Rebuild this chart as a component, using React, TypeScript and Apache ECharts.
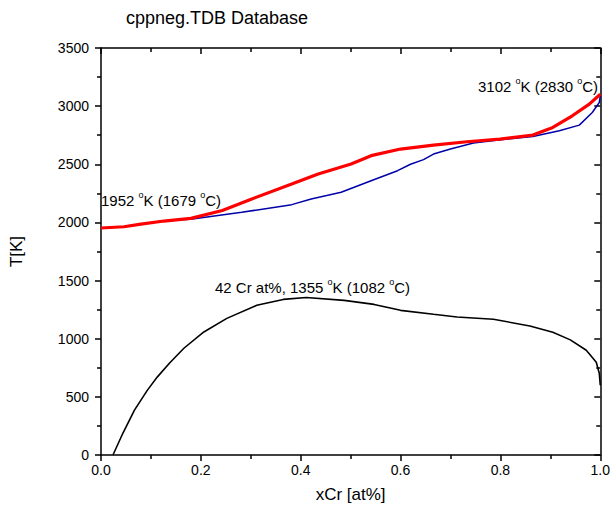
import React, { useEffect, useRef } from "react";
import * as echarts from "echarts";

const xTicks = [0, 0.2, 0.4, 0.6, 0.8, 1.0];
const yTicks = [0, 500, 1000, 1500, 2000, 2500, 3000, 3500];

const redX = [0, 0.046, 0.08, 0.126, 0.18, 0.243, 0.302, 0.382, 0.435, 0.501, 0.541, 0.6, 0.666, 0.733, 0.799, 0.865, 0.905, 0.944, 0.978, 1.0];
const redT = [1952, 1963, 1986, 2012, 2035, 2102, 2202, 2331, 2417, 2502, 2574, 2631, 2665, 2694, 2717, 2751, 2817, 2917, 3017, 3102];

const blueX = [0, 0.046, 0.08, 0.126, 0.183, 0.282, 0.382, 0.421, 0.481, 0.541, 0.594, 0.62, 0.646, 0.666, 0.7, 0.746, 0.8, 0.865, 0.918, 0.958, 0.984, 0.998, 1.0];
const blueT = [1952, 1963, 1986, 2012, 2030, 2087, 2153, 2202, 2259, 2359, 2445, 2500, 2540, 2588, 2631, 2683, 2711, 2739, 2788, 2837, 2945, 3031, 3088];

const blackX = [0.024, 0.044, 0.067, 0.093, 0.113, 0.137, 0.166, 0.206, 0.252, 0.312, 0.365, 0.411, 0.487, 0.547, 0.6, 0.666, 0.713, 0.786, 0.859, 0.905, 0.94, 0.972, 0.992, 0.998, 1.0];
const blackT = [0, 189, 386, 558, 672, 789, 918, 1058, 1175, 1287, 1338, 1355, 1330, 1295, 1244, 1210, 1187, 1167, 1110, 1055, 990, 901, 798, 703, 600];

const pairs = (xs: number[], ys: number[]) => xs.map((x, i) => [x, ys[i]]);

const FONT = "Liberation Sans, Arial, sans-serif";

const richSup = {
  n: { fontSize: 15, fontFamily: FONT, color: "#000", lineHeight: 18, verticalAlign: "bottom" },
  s: { fontSize: 9, fontFamily: FONT, color: "#000", lineHeight: 18, verticalAlign: "top" },
};

export default function App() {
  const ref = useRef<HTMLDivElement>(null);
  useEffect(() => {
    if (!ref.current) return;
    const chart = echarts.init(ref.current, null, { renderer: "svg" });
    const axisCommon = {
      type: "value",
      axisLine: { show: true, onZero: false, lineStyle: { color: "#000", width: 1.5 } },
      splitLine: { show: false },
    };
    const tickStyle = { color: "#000", width: 1.5 };
    chart.setOption({
      animation: false,
      backgroundColor: "#fff",
      title: {
        text: "cppneg.TDB Database",
        left: 121,
        top: 4,
        textStyle: { fontFamily: FONT, fontSize: 18, fontWeight: "normal", color: "#000" },
      },
      grid: { left: 100, right: 11, top: 48, bottom: 62 },
      xAxis: [
        {
          ...axisCommon,
          position: "bottom",
          min: xTicks[0],
          max: xTicks[xTicks.length - 1],
          interval: 0.2,
          name: "xCr [at%]",
          nameLocation: "middle",
          nameGap: 31,
          nameTextStyle: { fontFamily: FONT, fontSize: 17, color: "#000" },
          axisTick: { show: true, inside: false, length: 6, lineStyle: tickStyle },
          minorTick: { show: true, splitNumber: 2, length: 4, lineStyle: tickStyle },
          axisLabel: { fontFamily: FONT, fontSize: 14, color: "#000", margin: 8, formatter: (v: number) => v.toFixed(1) },
        },
        {
          ...axisCommon,
          position: "top",
          min: xTicks[0],
          max: xTicks[xTicks.length - 1],
          interval: 0.2,
          axisTick: { show: true, inside: true, length: 6, lineStyle: tickStyle },
          minorTick: { show: true, splitNumber: 2, length: 4, lineStyle: tickStyle },
          axisLabel: { show: false },
        },
      ],
      yAxis: [
        {
          ...axisCommon,
          position: "left",
          min: yTicks[0],
          max: yTicks[yTicks.length - 1],
          interval: 500,
          name: "T[K]",
          nameLocation: "middle",
          nameGap: 76,
          nameTextStyle: { fontFamily: FONT, fontSize: 17, color: "#000" },
          axisTick: { show: true, inside: false, length: 6, lineStyle: tickStyle },
          minorTick: { show: true, splitNumber: 2, length: 4, lineStyle: tickStyle },
          axisLabel: { fontFamily: FONT, fontSize: 14, color: "#000", margin: 12, formatter: (v: number) => String(v) },
        },
        {
          ...axisCommon,
          position: "right",
          min: yTicks[0],
          max: yTicks[yTicks.length - 1],
          interval: 500,
          axisTick: { show: true, inside: true, length: 6, lineStyle: tickStyle },
          minorTick: { show: true, splitNumber: 2, length: 4, lineStyle: tickStyle },
          axisLabel: { show: false },
        },
      ],
      series: [
        {
          type: "line",
          data: pairs(blackX, blackT),
          showSymbol: false,
          lineStyle: { color: "#000", width: 1.6 },
          z: 3,
        },
        {
          type: "line",
          data: pairs(blueX, blueT),
          showSymbol: false,
          lineStyle: { color: "#0000a8", width: 1.5 },
          z: 4,
        },
        {
          type: "line",
          data: pairs(redX, redT),
          showSymbol: false,
          lineStyle: { color: "#ff0000", width: 3.2 },
          z: 5,
        },
      ],
      graphic: [
        {
          type: "text",
          left: 101,
          top: 190,
          style: { text: "{n|1952 }{s|o}{n|K (1679 }{s|o}{n|C)}", rich: richSup },
        },
        {
          type: "text",
          left: 478,
          top: 76,
          style: { text: "{n|3102 }{s|o}{n|K (2830 }{s|o}{n|C)}", rich: richSup },
        },
        {
          type: "text",
          left: 215,
          top: 277,
          style: { text: "{n|42 Cr at%, 1355 }{s|o}{n|K (1082 }{s|o}{n|C)}", rich: richSup },
        },
      ],
    });
    return () => chart.dispose();
  }, []);
  return <div ref={ref} style={{ position: "fixed", left: 0, top: 0, width: 613, height: 517 }} />;
}
